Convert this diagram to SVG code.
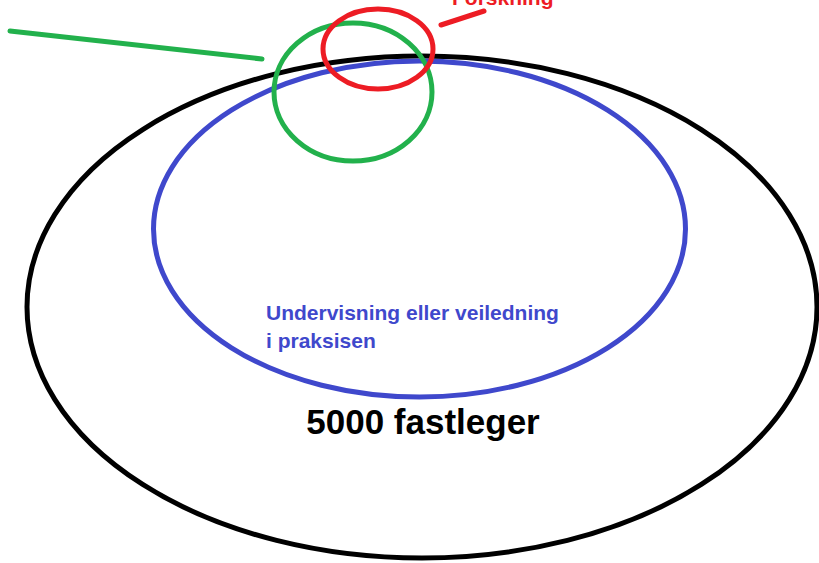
<svg xmlns="http://www.w3.org/2000/svg" width="819" height="563" viewBox="0 0 819 563">
<style>
.sh{fill:none;stroke-width:5}
.t{font-family:"Liberation Sans",Arial,sans-serif;font-weight:bold}
</style>
<rect width="819" height="563" fill="#fff"/>
<g id="fastleger">
<ellipse class="sh" cx="422" cy="307" rx="395" ry="251" stroke="#000"/>
<text class="t" x="423" y="434" font-size="35" text-anchor="middle" fill="#000">5000 fastleger</text>
</g>
<g id="undervisning">
<ellipse class="sh" cx="419.5" cy="229" rx="266" ry="168" stroke="#3f48cc"/>
<text class="t" x="266" y="320" font-size="21" fill="#3f48cc">Undervisning eller veiledning</text>
<text class="t" x="266" y="348" font-size="21" fill="#3f48cc">i praksisen</text>
</g>
<g id="green">
<ellipse class="sh" cx="353" cy="92" rx="79" ry="69" stroke="#22b14c"/>
</g>
<g id="forskning">
<ellipse class="sh" cx="378" cy="49" rx="55" ry="40" stroke="#ed1c24"/>
<text class="t" x="452" y="5" font-size="21" fill="#ed1c24">Forskning</text>
</g>
<g id="connectors">
<line x1="10" y1="31" x2="262" y2="59" stroke="#22b14c" stroke-width="5" stroke-linecap="round"/>
<line x1="441" y1="25" x2="484" y2="11" stroke="#ed1c24" stroke-width="5" stroke-linecap="round"/>
</g>
</svg>
